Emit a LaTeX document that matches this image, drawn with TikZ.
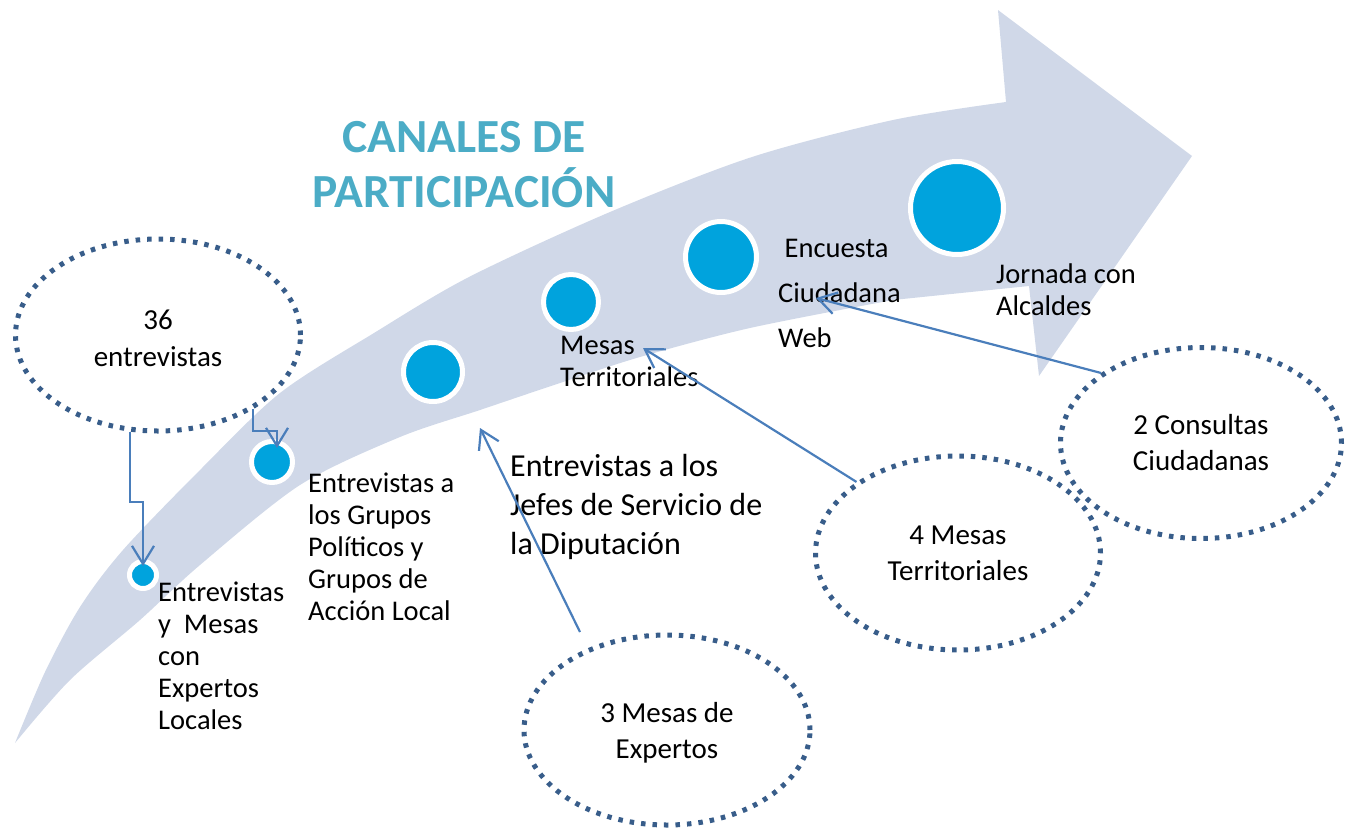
\documentclass[tikz,border=0pt]{standalone}
\usepackage{fontspec}
\setmainfont{Carlito}
\usetikzlibrary{arrows.meta,shapes.geometric}

\definecolor{bandgray}{RGB}{208,216,232}
\definecolor{dotblue}{RGB}{0,163,221}
\definecolor{ringblue}{RGB}{56,93,138}
\definecolor{linkblue}{RGB}{74,126,187}
\definecolor{titleblue}{RGB}{75,172,198}

\tikzset{
  stage/.style={circle, fill=dotblue, draw=white, line width=5pt, inner sep=0pt},
  group/.style={ellipse, draw=ringblue, line width=5pt, dash pattern=on 4.5pt off 7pt,
    align=center, inner sep=0pt, font=\fontsize{29}{36}\selectfont},
  lbl/.style={align=left, inner sep=0pt, anchor=west, font=\fontsize{28.5}{32}\selectfont},
  link/.style={draw=linkblue, line width=2.2pt, -{Straight Barb[length=18pt,width=22pt]}},
}

\begin{document}
\begin{tikzpicture}[x=1pt,y=-1pt]
            \useasboundingbox (0,0) rectangle (1345,828);

            % Curved band with arrow head
            \fill[bandgray] plot[smooth] coordinates {(15,743) (45,672) (80,607)
            (123,550) (200,470) (280,393) (374,333) (469,277) (610,212) (752,157)
            (893,120) (1006,102)} -- (998,10) -- (1192,156) -- (1039,376) -- (1029,286)
            -- plot[smooth] coordinates {(893,300) (750,328) (640,357) (560,383)
            (480,410) (400,437) (300,485) (200,565) (140,620) (70,680) (15,743)}
            -- cycle;

            % Title
            \node[font=\fontsize{47.5}{55}\selectfont\bfseries, text=titleblue,
            align=center] (title) at (464,165) {CANALES DE\\PARTICIPACIÓN};

            % Stages on the band
            \node[stage, minimum size=27pt] (c1) at (143,575) {};
            \node[stage, minimum size=41pt] (c2) at (272,462) {};
            \node[stage, minimum size=59pt] (c3) at (433,372) {};
            \node[stage, minimum size=55pt] (c4) at (571,302) {};
            \node[stage, minimum size=71pt] (c5) at (721,257) {};
            \node[stage, minimum size=93pt] (c6) at (957,208) {};

            % Stage labels
            \node[lbl] (l1) at (158,656) {Entrevistas\\y~ Mesas\\con\\Expertos\\Locales};
            \node[lbl] (l2) at (308,547) {Entrevistas a\\los Grupos\\Políticos y\\Grupos de\\Acción Local};
            \node[lbl, font=\fontsize{32}{39}\selectfont] (l3) at (510,507)
            {Entrevistas a los\\Jefes de Servicio de\\la Diputación};
            \node[lbl] (l4) at (560,361) {Mesas\\Territoriales};
            \node[lbl, font=\fontsize{28.5}{45}\selectfont] (l5) at (778,293)
            {~Encuesta\\Ciudadana\\Web};
            \node[lbl] (l6) at (996,290) {Jornada con\\Alcaldes};

            % Dotted groups
            \node[group, minimum width=285pt, minimum height=192pt] (e1) at (158,335)
            {\rule{0pt}{27pt}36\\[1pt]entrevistas};
            \node[group, minimum width=286pt, minimum height=190pt] (e2) at (667,730)
            {\rule{0pt}{25pt}3 Mesas de\\Expertos};
            \node[group, minimum width=285pt, minimum height=194pt] (e3) at (958,553) {4 Mesas\\Territoriales};
            \node[group, minimum width=281pt, minimum height=191pt] (e4) at (1201,443) {2 Consultas\\Ciudadanas};

            % Draw arrows
            \draw[link, shorten >=-7pt] (e1.254) -- ++(0,70) -| (c1.north);
            \draw[link, shorten >=-9pt] (e1.322) -- ++(0,22) -| ([xshift=5pt]c2.north);
            \coordinate (s3) at (580,632); \coordinate (t3) at (480,428);
            \draw[link] (s3) -- (t3);
            \coordinate (t4) at (643,348);
            \draw[link] (e3.145) -- (t4);
            \coordinate (t5) at (816,298);
            \draw[link] (e4.145) -- (t5);
        \end{tikzpicture}
\end{document}
